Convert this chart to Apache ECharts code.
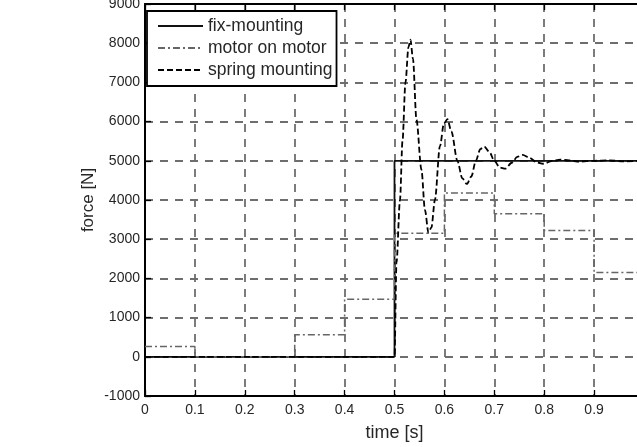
<!DOCTYPE html>
<html>
<head>
<meta charset="utf-8">
<script src="https://cdn.jsdelivr.net/npm/echarts@6/dist/echarts.min.js"></script>
<style>
html, body { margin: 0; padding: 0; background: #fff; }
#main { width: 637px; height: 447px; }
</style>
</head>
<body>
<div id="main"></div>
<script>
// data
var fixMounting = [[0, 0], [0.5, 0], [0.5, 5000], [1, 5000]];

// motor on motor: one level per 0.1 s interval
var motorTimes = [0, 0.1, 0.2, 0.3, 0.4, 0.5, 0.6, 0.7, 0.8, 0.9, 1.0];
var motorValues = [260, 0, 0, 560, 1470, 3150, 4180, 3650, 3220, 2150, 2150];

// spring mounting (time, force)
var springTimes = [0, 0.5, 0.504, 0.511, 0.516, 0.522, 0.528, 0.532, 0.537, 0.544, 0.554, 0.561, 0.568, 0.574, 0.581, 0.591, 0.599, 0.606, 0.614, 0.626, 0.636, 0.645, 0.654, 0.663, 0.672, 0.680, 0.690, 0.700, 0.711, 0.722, 0.735, 0.746, 0.757, 0.770, 0.785, 0.798, 0.815, 0.832, 0.850, 0.870, 0.900, 0.930, 0.960, 1.0];
var springValues = [0, 0, 2400, 4000, 5500, 7000, 7900, 8090, 7600, 6050, 4770, 3750, 3170, 3300, 4000, 5365, 5950, 6060, 5750, 5000, 4550, 4410, 4600, 5000, 5300, 5365, 5230, 5000, 4830, 4800, 4950, 5100, 5150, 5080, 4960, 4925, 4990, 5030, 5010, 4980, 5000, 5010, 4985, 5000];

function pairs(xs, ys) {
    var out = [];
    for (var i = 0; i < xs.length; i++) out.push([xs[i], ys[i]]);
    return out;
}

var font = 'Liberation Sans';
var txt = '#262626';
var gridLine = { show: true, lineStyle: { color: '#6e6e6e', type: [8, 7], width: 1.8 } };
var myChart = echarts.init(document.getElementById('main'));

var option = {
    animation: false,
    backgroundColor: '#fff',
    textStyle: { fontFamily: font },
    grid: { left: 145, top: 4, width: 499, height: 392, outerBoundsMode: 'none', containLabel: false },
    legend: {
        orient: 'vertical',
        left: 147,
        top: 11,
        padding: [6, 4, 7, 10],
        itemGap: 4,
        itemWidth: 45,
        itemHeight: 14,
        backgroundColor: '#fff',
        borderColor: '#000',
        borderWidth: 1.8,
        itemStyle: { opacity: 0 },
        textStyle: { fontFamily: font, fontSize: 17.5, color: txt },
        data: ['fix-mounting', 'motor on motor', 'spring mounting']
    },
    xAxis: [{
        type: 'value',
        min: 0,
        max: 1,
        interval: 0.1,
        name: 'time [s]',
        nameLocation: 'middle',
        nameGap: 28,
        nameMoveOverlap: false,
        nameTextStyle: { fontFamily: font, fontSize: 18, color: txt },
        axisLine: { onZero: false, lineStyle: { color: '#000', width: 2 } },
        axisTick: { inside: true, length: 6, lineStyle: { color: '#000', width: 1.3 } },
        axisLabel: { fontFamily: font, fontSize: 14, color: txt, margin: 7 },
        splitLine: gridLine
    }, {
        type: 'value',
        position: 'top',
        min: 0,
        max: 1,
        interval: 0.1,
        axisLine: { onZero: false, lineStyle: { color: '#000', width: 2 } },
        axisTick: { inside: true, length: 6, lineStyle: { color: '#000', width: 1.3 } },
        axisLabel: { show: false },
        splitLine: { show: false }
    }],
    yAxis: {
        type: 'value',
        min: -1000,
        max: 9000,
        interval: 1000,
        name: 'force [N]',
        nameLocation: 'middle',
        nameGap: 48,
        nameMoveOverlap: false,
        nameTextStyle: { fontFamily: font, fontSize: 17, color: txt },
        axisLine: { show: true, onZero: false, lineStyle: { color: '#000', width: 2 } },
        axisTick: { show: true, inside: true, length: 6, lineStyle: { color: '#000', width: 1.3 } },
        axisLabel: {
            fontFamily: font, fontSize: 14, color: txt, margin: 5,
            formatter: function (v) { return String(v); }
        },
        splitLine: gridLine
    },
    series: [{
        name: 'fix-mounting',
        type: 'line',
        symbol: 'none',
        data: fixMounting,
        lineStyle: { color: '#111', width: 1.8, type: 'solid' },
        itemStyle: { color: '#111' }
    }, {
        name: 'motor on motor',
        type: 'line',
        symbol: 'none',
        step: 'end',
        data: pairs(motorTimes, motorValues),
        lineStyle: { color: '#666', width: 1.5, type: [7, 3, 2, 3] },
        itemStyle: { color: '#666' }
    }, {
        name: 'spring mounting',
        type: 'line',
        symbol: 'none',
        smooth: 0.3,
        smoothMonotone: 'x',
        data: pairs(springTimes, springValues),
        lineStyle: { color: '#000', width: 1.8, type: [6, 3] },
        itemStyle: { color: '#000' }
    }]
};

if (option && typeof option === "object") {
    myChart.setOption(option, true);
}
</script>
</body>
</html>
